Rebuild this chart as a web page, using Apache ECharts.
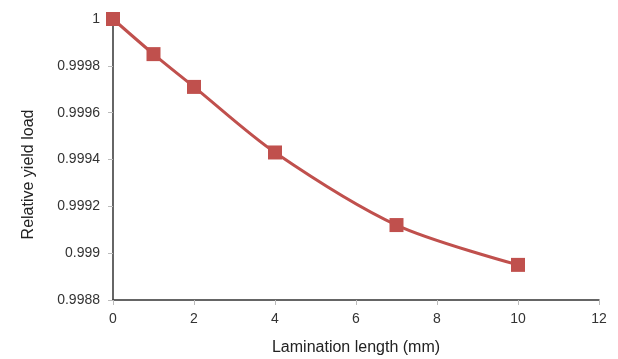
<!DOCTYPE html>
<html>
<head>
<meta charset="utf-8">
<script src="https://cdn.jsdelivr.net/npm/echarts@6/dist/echarts.min.js"></script>
<style>
  html, body { margin: 0; padding: 0; background: #fff; }
  #chart { width: 618px; height: 359px; }
</style>
</head>
<body>
<div id="chart"></div>
<script>
const laminationLength = [0, 1, 2, 4, 7, 10];
const relativeYieldLoad = [1, 0.99985, 0.99971, 0.99943, 0.99912, 0.99895];

const myChart = echarts.init(document.getElementById('chart'));
const LINE_COLOR = '#c0504d';

const options = {
  animation: false,
  textStyle: { fontFamily: 'Liberation Sans, Arial, sans-serif' },
  grid: { left: 113, right: 19, top: 19, bottom: 59, outerBoundsMode: 'none' },
  xAxis: {
    type: 'value',
    min: 0,
    max: 12,
    interval: 2,
    name: 'Lamination length (mm)',
    nameLocation: 'middle',
    nameGap: 40,
    nameTextStyle: { fontSize: 16, color: '#222' },
    splitLine: { show: false },
    axisLine: { lineStyle: { color: '#333', width: 1.5 } },
    axisTick: { length: 5, lineStyle: { color: '#bbb' } },
    axisLabel: { fontSize: 14, color: '#333', margin: 12 }
  },
  yAxis: {
    type: 'value',
    min: 0.9988,
    max: 1,
    interval: 0.0002,
    name: 'Relative yield load',
    nameLocation: 'middle',
    nameGap: 76,
    nameTextStyle: { fontSize: 16, color: '#222', padding: [0, 30, 0, 0] },
    splitLine: { show: false },
    axisLine: { show: true, lineStyle: { color: '#333', width: 1.5 } },
    axisTick: { show: true, length: 5, lineStyle: { color: '#bbb' } },
    axisLabel: { fontSize: 14, color: '#333', margin: 13 }
  },
  series: [
    {
      type: 'line',
      smooth: 0.3,
      data: laminationLength.map((x, i) => [x, relativeYieldLoad[i]]),
      symbol: 'rect',
      symbolSize: 14,
      lineStyle: { color: LINE_COLOR, width: 3 },
      itemStyle: { color: LINE_COLOR }
    }
  ]
};

options && myChart.setOption(options);
</script>
</body>
</html>
